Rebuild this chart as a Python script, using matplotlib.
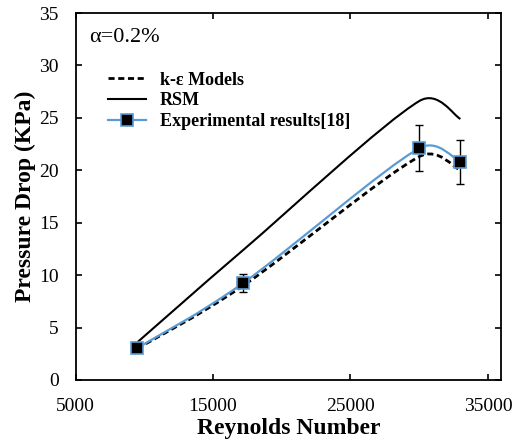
import matplotlib
matplotlib.use("Agg")
import numpy as np
import matplotlib.pyplot as plt
from matplotlib.path import Path
from matplotlib.patches import PathPatch
from matplotlib.lines import Line2D

plt.rcParams['font.family'] = ['Liberation Serif', 'DejaVu Serif']

# data
reynolds = [9500, 17200, 30000, 33000]
exp_drop = [3.05, 9.25, 22.1, 20.8]
exp_err = [0.0, 0.9, 2.2, 2.1]
ke_drop = [3.0, 9.0, 21.3, 20.0]
rsm_drop = [3.6, 12.4, 26.6, 24.9]

blue = '#5B9BD5'


def smooth_path(ax, xs, ys):
    # Excel style smoothed line (Bezier through the points, in screen space)
    tr = ax.transData
    pts = tr.transform(np.column_stack([xs, ys]))
    n = len(pts)
    verts = [pts[0]]
    codes = [Path.MOVETO]
    for i in range(n - 1):
        p0 = pts[max(i - 1, 0)]
        p1 = pts[i]
        p2 = pts[i + 1]
        p3 = pts[min(i + 2, n - 1)]
        d12 = np.hypot(*(p2 - p1))
        d02 = np.hypot(*(p2 - p0))
        d13 = np.hypot(*(p3 - p1))
        f = min(1 / 6, d12 / (2 * d02)) if d02 > 0 else 1 / 6
        g = min(1 / 6, d12 / (2 * d13)) if d13 > 0 else 1 / 6
        verts += [p1 + f * (p2 - p0), p2 - g * (p3 - p1), p2]
        codes += [Path.CURVE4] * 3
    verts = tr.inverted().transform(np.array(verts))
    return Path(verts, codes)


fig = plt.figure(figsize=(5.19, 4.47), dpi=100)
ax = fig.add_axes([0.1455, 0.1499, 0.8198, 0.8210])
ax.set_xlim(5000, 35950)
ax.set_ylim(0, 35)

ax.add_patch(PathPatch(smooth_path(ax, reynolds, rsm_drop), fill=False,
                       edgecolor='black', lw=1.5, zorder=2))
ax.add_patch(PathPatch(smooth_path(ax, reynolds, ke_drop), fill=False,
                       edgecolor='black', lw=2, linestyle=(0, (2.2, 1.3)), zorder=2))
ax.add_patch(PathPatch(smooth_path(ax, reynolds, exp_drop), fill=False,
                       edgecolor=blue, lw=1.6, zorder=3))
ax.errorbar(reynolds, exp_drop, yerr=exp_err, fmt='none', ecolor='black',
            elinewidth=1, capsize=3, capthick=1, zorder=4)
ax.plot(reynolds, exp_drop, linestyle='none', marker='s', markersize=9,
        markerfacecolor='black', markeredgecolor=blue, markeredgewidth=1.2, zorder=5)

ax.set_xticks([5000, 15000, 25000, 35000])
ax.set_yticks(range(0, 36, 5))
ax.tick_params(direction='in', length=4, width=1.2, labelsize=14,
               top=True, right=True)
ax.tick_params(axis='x', pad=13)
ax.tick_params(axis='y', pad=12)
for s in ax.spines.values():
    s.set_linewidth(1.3)

ax.set_xlabel('Reynolds Number', fontsize=17, fontweight='bold', labelpad=2)
ax.set_ylabel('Pressure Drop (KPa)', fontsize=17, fontweight='bold', labelpad=2)

ax.text(0.032, 0.96, 'α=0.2%', transform=ax.transAxes, fontsize=16,
        va='top', ha='left')

handles = [
    Line2D([], [], color='black', lw=2, linestyle=(0, (2.2, 1.3))),
    Line2D([], [], color='black', lw=1.5),
    Line2D([], [], color=blue, lw=1.6, marker='s', markersize=9,
           markerfacecolor='black', markeredgecolor=blue, markeredgewidth=1.2),
]
labels = ['k-ε Models', 'RSM', 'Experimental results[18]']
ax.legend(handles, labels, loc='upper left', bbox_to_anchor=(0.06, 0.86),
          frameon=False, prop={'weight': 'bold', 'size': 13},
          handlelength=2.1, handletextpad=0.75, labelspacing=0.2, borderaxespad=0)

fig.savefig('out.png', dpi=100)
